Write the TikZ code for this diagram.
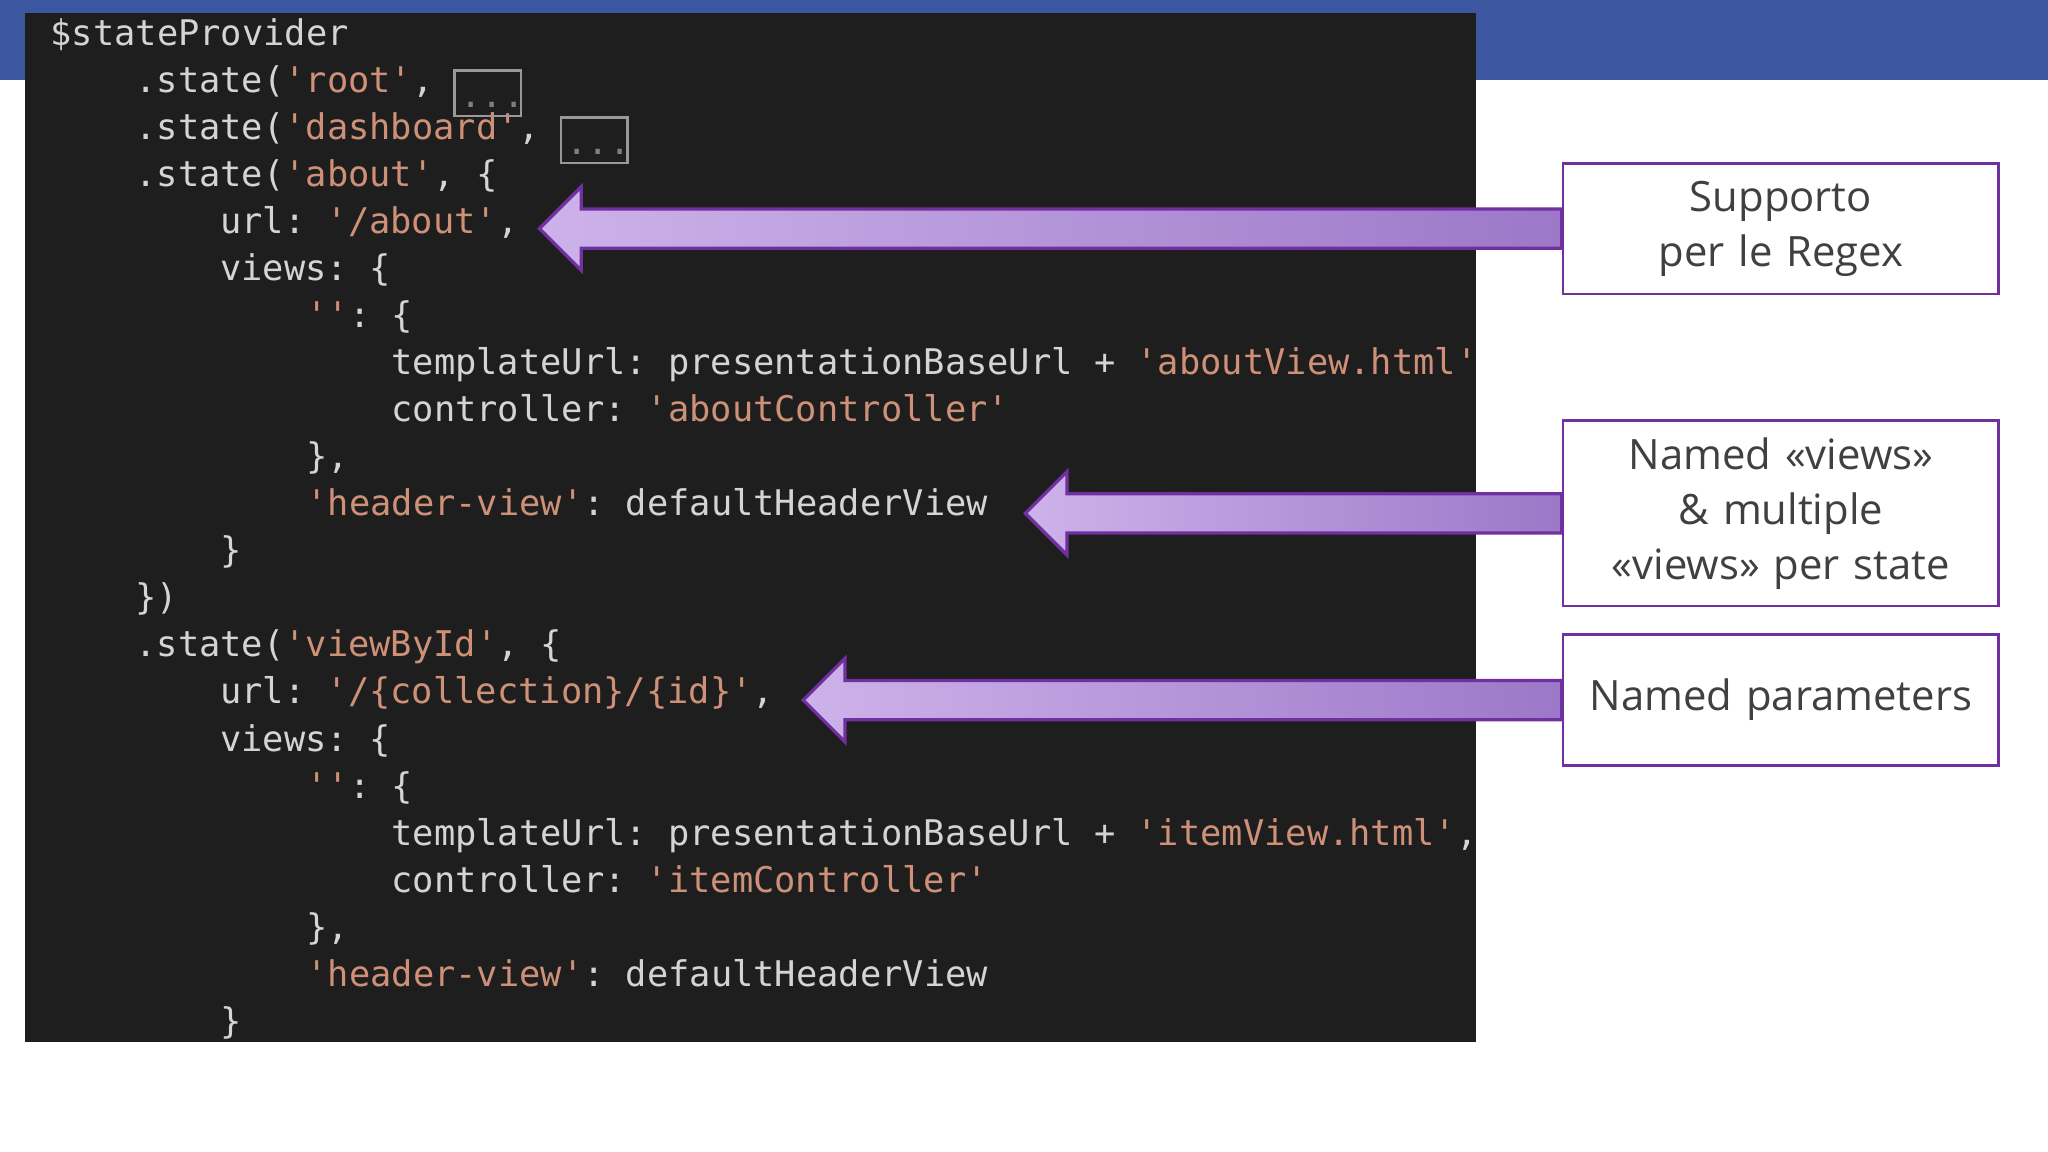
\documentclass[tikz,border=0pt]{standalone}
\usepackage{fontspec}
\setmainfont{Open Sans}
\setmonofont{DejaVu Sans Mono}
\definecolor{band}{HTML}{3C56A0}
\definecolor{codebg}{HTML}{1E1E1E}
\definecolor{codefg}{HTML}{D4D4D4}
\definecolor{codestr}{HTML}{CE9178}
\definecolor{purpleline}{HTML}{7030A0}
\definecolor{arrowlight}{HTML}{CDB2EA}
\definecolor{arrowdark}{HTML}{9C78C8}
\definecolor{notetext}{HTML}{404040}
\newcommand{\str}[1]{\textcolor{codestr}{#1}}
\tikzset{
  code/.style={anchor=base west,inner sep=0pt,text=codefg,
    font=\ttfamily\fontsize{7.7}{9}\selectfont},
  dots/.style={draw=gray!80,line width=0.5pt,minimum width=0.51cm,minimum height=0.35cm,
    inner sep=0pt},
  note/.style={draw=purpleline,line width=0.6pt,fill=white,minimum width=3.21cm,
    text width=3.1cm,align=center,text=notetext,
    font=\fontsize{9.1}{12}\selectfont},
  bigarrow/.style={draw=purpleline,line width=0.7pt,left color=arrowlight,right color=arrowdark}
}
\begin{document}
\begin{tikzpicture}[x=0.01cm,y=-0.01cm]
\useasboundingbox (0,0) rectangle (1568,882);
\fill[band] (0,0) rectangle (1568,61);
\fill[codebg] (19,10) rectangle (1130,798);

% code listing
\begin{scope}
\clip (19,10) rectangle (1130,798);
\node[code] (c1) at (38,35) {\$stateProvider};
\node[code] (c2) at (103,71) {.state(\str{'root'},};
\node[code] (c3) at (103,107) {.state(\str{'dashboard'},};
\node[code] (c4) at (103,143) {.state(\str{'about'}, \{};
\node[code] (c5) at (168,179) {url: \str{'/about'},};
\node[code] (c6) at (168,215) {views: \{};
\node[code] (c7) at (234,251) {\str{''}: \{};
\node[code] (c8) at (299,287) {templateUrl: presentationBaseUrl + \str{'aboutView.html'}};
\node[code] (c9) at (299,323) {controller: \str{'aboutController'}};
\node[code] (c10) at (234,359) {\},};
\node[code] (c11) at (234,395) {\str{'header-view'}: defaultHeaderView};
\node[code] (c12) at (168,431) {\}};
\node[code] (c13) at (103,467) {\})};
\node[code] (c14) at (103,503) {.state(\str{'viewById'}, \{};
\node[code] (c15) at (168,539) {url: \str{'/\{collection\}/\{id\}'},};
\node[code] (c16) at (168,575) {views: \{};
\node[code] (c17) at (234,611) {\str{''}: \{};
\node[code] (c18) at (299,647) {templateUrl: presentationBaseUrl + \str{'itemView.html'},};
\node[code] (c19) at (299,683) {controller: \str{'itemController'}};
\node[code] (c20) at (234,719) {\},};
\node[code] (c21) at (234,755) {\str{'header-view'}: defaultHeaderView};
\node[code] (c22) at (168,791) {\}};
\end{scope}
\node[dots] (d1) at (373.5,71.5) {};
\node[dots] (d2) at (455,107.5) {};
\node[code,text=gray] at (352,82) {...};
\node[code,text=gray] at (433,118) {...};

% notes
\node[note,minimum height=1cm] (regex) at (1363.5,175) {Supporto per le Regex};
\node[note,minimum height=1.42cm] (views) at (1363.5,393) {Named «views» \& multiple «views» per state};
\node[note,minimum height=1cm] (params) at (1363.5,536) {Named parameters};

% arrows
\coordinate (t1) at (413,175);
\coordinate (t2) at (785,393);
\coordinate (t3) at (615,536);
\foreach \nb/\tip in {regex/t1,views/t2,params/t3}{
  \draw[bigarrow] ([shift={(0,-15)}]\nb.west) -- ([shift={(32,-15)}]\tip)
    -- ([shift={(32,-32)}]\tip) -- (\tip) -- ([shift={(32,32)}]\tip)
    -- ([shift={(32,15)}]\tip) -- ([shift={(0,15)}]\nb.west) -- cycle;
}
\end{tikzpicture}
\end{document}
